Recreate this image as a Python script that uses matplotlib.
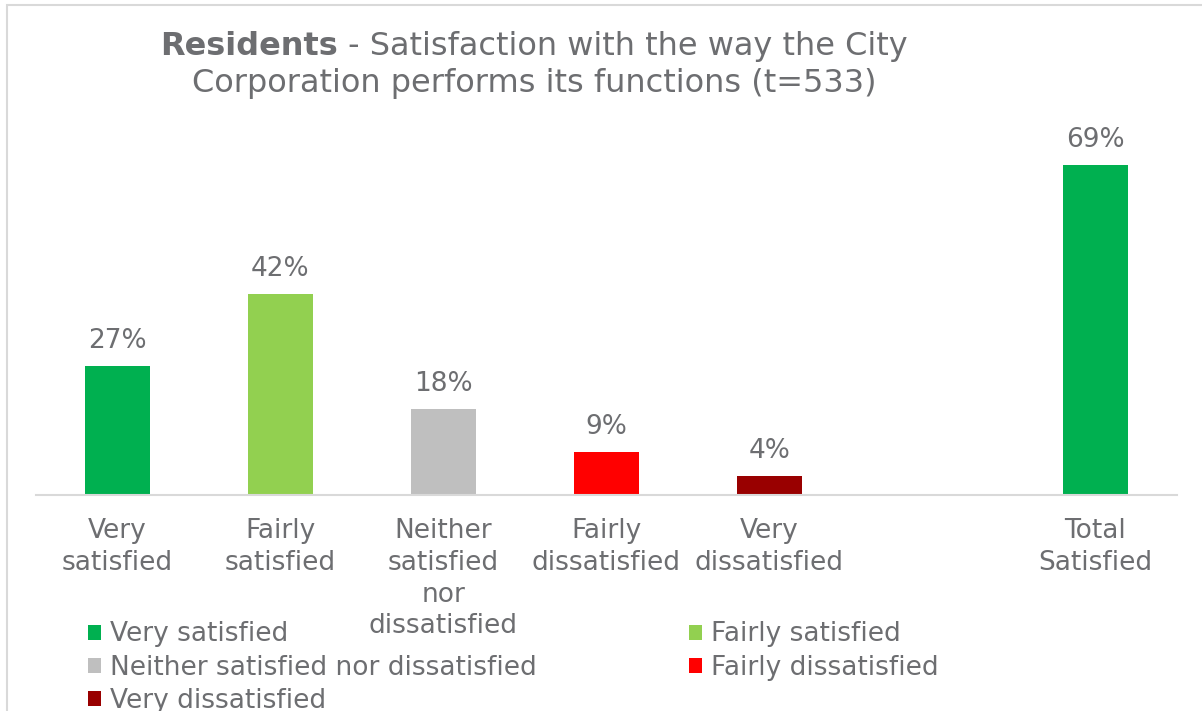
import matplotlib
matplotlib.use("Agg")
import matplotlib.pyplot as plt
from matplotlib.patches import Rectangle, Patch

# data
categories = ["Very\nsatisfied", "Fairly\nsatisfied", "Neither\nsatisfied\nnor\ndissatisfied",
              "Fairly\ndissatisfied", "Very\ndissatisfied", "", "Total\nSatisfied"]
values = [27, 42, 18, 9, 4, None, 69]
bar_colors = ["#00B050", "#92D050", "#BFBFBF", "#FF0000", "#990000", None, "#00B050"]
legend_names = ["Very satisfied", "Fairly satisfied", "Neither satisfied nor dissatisfied",
                "Fairly dissatisfied", "Very dissatisfied"]
legend_colors = ["#00B050", "#92D050", "#BFBFBF", "#FF0000", "#990000"]

TEXT = "#6d6e71"
plt.rcParams['font.family'] = ['DejaVu Sans']

fig = plt.figure(figsize=(12.02, 7.11), dpi=100)
ax = fig.add_axes([0.03, 0.3038, 0.949, 0.5274])

for i, (v, c) in enumerate(zip(values, bar_colors)):
    if v is None:
        continue
    ax.bar(i, v, width=0.4, color=c, zorder=2)
    ax.annotate(f"{v}%", (i, v), xytext=(0, 8.5), textcoords="offset points",
                ha="center", va="bottom", fontsize=19, color=TEXT)

ax.set_xlim(-0.5, 6.5)
ax.set_ylim(0, 78.4)
ax.set_xticks(range(len(categories)))
ax.set_xticklabels(categories, fontsize=19, color=TEXT, linespacing=1.29, va="top")
ax.tick_params(axis="x", length=0, pad=16.5)
ax.set_yticks([])
for s in ["top", "left", "right"]:
    ax.spines[s].set_visible(False)
ax.spines["bottom"].set_color("#D9D9D9")
ax.spines["bottom"].set_linewidth(1.5)
ax.patch.set_alpha(0)

# legend, row-major order over 2 columns
order = [0, 2, 4, 1, 3]
handles = [Patch(facecolor=legend_colors[k], edgecolor="none") for k in order]
labels = [legend_names[k] for k in order]
fig.legend(handles, labels, ncol=2, loc="upper left", bbox_to_anchor=(0.073, 0.126),
           frameon=False, fontsize=19, labelcolor=TEXT, handlelength=0.5, handleheight=0.5,
           handletextpad=0.35, labelspacing=0.27, columnspacing=5.75, borderpad=0,
           borderaxespad=0)

# title with bold first word, centered
renderer = fig.canvas.get_renderer()
t1 = fig.text(0, 0.935, "Residents", fontsize=23, fontweight="bold", color=TEXT, va="center")
t2 = fig.text(0, 0.935, " - Satisfaction with the way the City", fontsize=23, color=TEXT, va="center")
w1 = t1.get_window_extent(renderer).width
w2 = t2.get_window_extent(renderer).width
cx = 534
x0 = cx - (w1 + w2) / 2
t1.set_x(x0 / fig.bbox.width)
t2.set_x((x0 + w1) / fig.bbox.width)
fig.text(cx / fig.bbox.width, 0.882, "Corporation performs its functions (t=533)",
         fontsize=23, color=TEXT, ha="center", va="center")

# chart frame border
fig.patches.append(Rectangle((7 / 1202, -0.1), 1.2, 1.1 - 5 / 711, transform=fig.transFigure,
                             fill=False, edgecolor="#D9D9D9", linewidth=1.5))

fig.savefig("out.png", dpi=100)
